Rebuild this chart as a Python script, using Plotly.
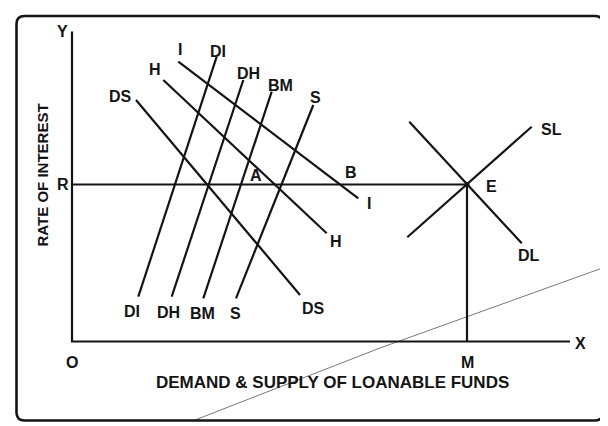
import plotly.graph_objects as go

# ---- data (units: chart units, origin at O) ----
curve_names = ["I", "H", "DS", "DI", "DH", "BM", "S", "DL", "SL"]
curve_x0 = [106.3, 91.3, 64.0, 144.7, 171.3, 199.7, 241.3, 337.3, 335.3]
curve_y0 = [279.8, 261.5, 241.5, 284.8, 261.5, 249.8, 236.5, 219.8, 104.2]
curve_x1 = [286.3, 254.7, 228.0, 66.3, 99.7, 131.3, 164.0, 449.7, 459.7]
curve_y1 = [143.2, 108.2, 46.5, 44.8, 44.8, 43.2, 43.2, 98.2, 214.8]

axis_x = [0, 0, 498]
axis_y = [310, 0, 0]

rate_R = 157          # equilibrium rate of interest (OR)
funds_M = 395         # equilibrium quantity (OM)

stray_x = [123, 308, 536]
stray_y = [-78.5, -6.5, 75.5]

label_text = ["Y", "X", "O", "M", "R", "E", "A", "B",
              "I", "I", "H", "H", "DS", "DS", "DI", "DI",
              "DH", "DH", "BM", "BM", "S", "S", "SL", "DL"]
label_x = [-10, 508, 0, 395, -9, 419, 184, 279,
           108, 297, 83, 264, 48, 241, 146, 60,
           176, 96, 208, 130, 243, 163, 479, 457]
label_y = [310.5, -1.5, -20.5, -20.5, 157.5, 155.5, 166.5, 169.5,
           292.5, 138.5, 272.5, 100.5, 245.5, 33.5, 290.5, 30.0,
           268.5, 29.0, 256.5, 28.5, 244.5, 28.5, 212.5, 86.5]

x_title = "DEMAND & SUPPLY OF LOANABLE FUNDS"
y_title = "RATE OF INTEREST"

# ---- figure ----
INK = "#141414"
FONT = "Liberation Sans, Arial, Helvetica, sans-serif"

fig = go.Figure()

# stray scan line
fig.add_trace(go.Scatter(x=stray_x, y=stray_y, mode="lines",
                         line=dict(color="#7a7a7a", width=1),
                         hoverinfo="skip", showlegend=False))

# axes
fig.add_trace(go.Scatter(x=axis_x, y=axis_y, mode="lines",
                         line=dict(color=INK, width=2.2),
                         hoverinfo="skip", showlegend=False))

# guide lines R-E and E-M
fig.add_trace(go.Scatter(x=[0, funds_M, funds_M], y=[rate_R, rate_R, 0],
                         mode="lines", line=dict(color=INK, width=2.2),
                         hoverinfo="skip", showlegend=False))

# curves
for n, x0, y0, x1, y1 in zip(curve_names, curve_x0, curve_y0, curve_x1, curve_y1):
    fig.add_trace(go.Scatter(x=[x0, x1], y=[y0, y1], mode="lines", name=n,
                             line=dict(color=INK, width=2.2),
                             hoverinfo="skip", showlegend=False))

# equilibrium point
fig.add_trace(go.Scatter(x=[funds_M], y=[rate_R], mode="markers",
                         marker=dict(color=INK, size=5),
                         hoverinfo="skip", showlegend=False))

# point labels
for t, x, y in zip(label_text, label_x, label_y):
    fig.add_annotation(x=x, y=y, text=t, showarrow=False,
                       font=dict(family=FONT, size=16, color=INK, weight="bold"),
                       xanchor="center", yanchor="middle")

fig.add_annotation(x=260, y=-40.5, text=x_title, showarrow=False,
                   font=dict(family=FONT, size=17, color=INK, weight="bold"),
                   xanchor="center", yanchor="middle")
fig.add_annotation(x=-30, y=166, text=y_title, showarrow=False, textangle=-90,
                   font=dict(family=FONT, size=15, color=INK, weight="bold"),
                   xanchor="center", yanchor="middle")

# rounded frame
L, R_, T, B = -55.5, 531.0, 325.5, -79.0
r = 8
frame_path = (f"M {L + r},{T} L {R_ - r},{T} Q {R_},{T} {R_},{T - r} "
              f"L {R_},{B + r} Q {R_},{B} {R_ - r},{B} "
              f"L {L + r},{B} Q {L},{B} {L},{B + r} "
              f"L {L},{T - r} Q {L},{T} {L + r},{T} Z")
fig.add_shape(type="path", path=frame_path, xref="x", yref="y",
              line=dict(color=INK, width=2.6))

# page has an 8px body margin: figure is 600x418 and starts at page pixel 8
fig.update_layout(
    width=600, height=418,
    margin=dict(l=0, r=0, t=0, b=0),
    paper_bgcolor="white", plot_bgcolor="white",
    xaxis=dict(range=[-64, 536], visible=False, fixedrange=True),
    yaxis=dict(range=[-84.5, 333.5], visible=False, fixedrange=True),
    showlegend=False,
)

fig.write_html("out.html")
